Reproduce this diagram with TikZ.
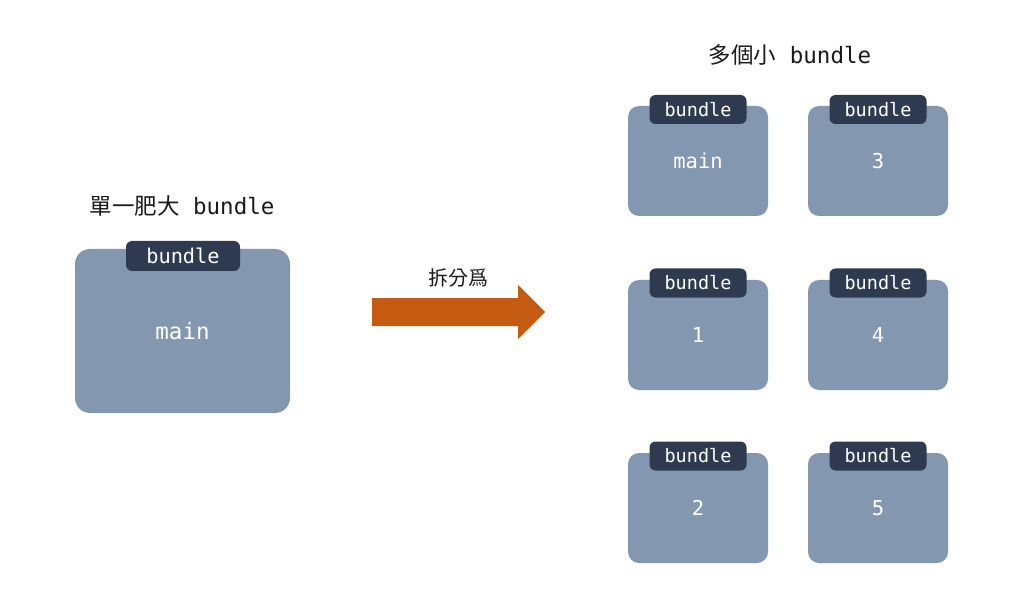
\documentclass[tikz,border=0pt]{standalone}
\usepackage{fontspec}
\setmonofont{DejaVu Sans Mono}
\newfontfamily\cjk{Noto Sans CJK TC}
\definecolor{boxblue}{HTML}{8497B0}
\definecolor{tabdark}{HTML}{2E3A50}
\definecolor{splitorange}{HTML}{C55A11}
\definecolor{titleblack}{HTML}{1A1A1A}
\begin{document}
\begin{tikzpicture}[x=1pt, y=-1pt,
    bigbox/.style={fill=boxblue, rounded corners=15pt, minimum width=215pt, minimum height=164pt, inner sep=0pt},
    smallbox/.style={fill=boxblue, rounded corners=11pt, minimum width=140pt, minimum height=110pt, inner sep=0pt},
    bigtab/.style={fill=tabdark, rounded corners=6pt, minimum width=114pt, minimum height=30pt, inner sep=0pt, text=white, font=\fontsize{20.3}{24}\ttfamily},
    smalltab/.style={fill=tabdark, rounded corners=6pt, minimum width=97pt, minimum height=29pt, inner sep=0pt, text=white, font=\fontsize{18.5}{22}\ttfamily},
    boxlabel/.style={text=white, font=\fontsize{20.5}{24}\ttfamily},
    heading/.style={text=titleblack, font=\fontsize{22.5}{27}\ttfamily}]
    % Page
    \useasboundingbox[fill=white] (0,0) rectangle (1024,601);

    % Left: one big bundle
    \node[heading] (bigtitle) at (182,206) {{\cjk 單一肥大} bundle};
    \node[bigbox] (bigmain) at (182.5,331) {};
    \node[bigtab] (bigtabmain) at (183,256) {bundle};
    \node[boxlabel, font=\fontsize{22.5}{27}\ttfamily] at (bigmain.center) {main};

    % Split arrow
    \fill[splitorange] (372,298) -- (518,298) -- (518,285) -- (545,312) -- (518,339) -- (518,326) -- (372,326) -- cycle;
    \node[text=titleblack, font=\fontsize{20}{24}\cjk] (splitlabel) at (458,278) {拆分爲};

    % Right: several small bundles
    \node[heading] (smalltitle) at (790,55) {{\cjk 多個小} bundle};

    % Row 1
    \node[smallbox] (boxmain) at (698,161) {};
    \node[smalltab] (tabmain) at (698,109.5) {bundle};
    \node[boxlabel] at (boxmain.center) {main};
    \node[smallbox] (boxthree) at (878,161) {};
    \node[smalltab] (tabthree) at (878,109.5) {bundle};
    \node[boxlabel] at (boxthree.center) {3};

    % Row 2
    \node[smallbox] (boxone) at (698,335) {};
    \node[smalltab] (tabone) at (698,283) {bundle};
    \node[boxlabel] at (boxone.center) {1};
    \node[smallbox] (boxfour) at (878,335) {};
    \node[smalltab] (tabfour) at (878,283) {bundle};
    \node[boxlabel] at (boxfour.center) {4};

    % Row 3
    \node[smallbox] (boxtwo) at (698,508) {};
    \node[smalltab] (tabtwo) at (698,456) {bundle};
    \node[boxlabel] at (boxtwo.center) {2};
    \node[smallbox] (boxfive) at (878,508) {};
    \node[smalltab] (tabfive) at (878,456) {bundle};
    \node[boxlabel] at (boxfive.center) {5};
\end{tikzpicture}
\end{document}
